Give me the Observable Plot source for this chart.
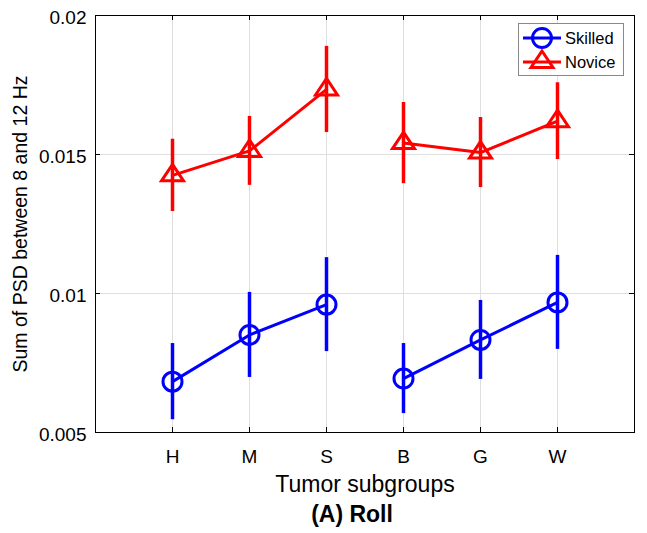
<!DOCTYPE html>
<html>
<head>
<meta charset="utf-8">
<script src="https://cdn.jsdelivr.net/npm/d3@7"></script>
<script src="https://cdn.jsdelivr.net/npm/@observablehq/plot@0.6"></script>
<style>
  body { margin: 0; background: white; }
  #wrap { position: relative; width: 647px; height: 533px; font-family: "Liberation Sans", Arial, sans-serif; }
  #legend { position: absolute; left: 0; top: 0; }
</style>
</head>
<body>
<div id="wrap"></div>
<script>
// ---- data ----
const categories = ["H", "M", "S", "B", "G", "W"];
const groups = [1, 1, 1, 2, 2, 2];
const skilledMean = [0.00683, 0.00851, 0.00960, 0.00694, 0.00833, 0.00968];
const skilledErr  = [0.00137, 0.00153, 0.00169, 0.00126, 0.00142, 0.00169];
const noviceMean  = [0.01425, 0.01513, 0.01734, 0.01541, 0.01507, 0.01620];
const noviceErr   = [0.00130, 0.00124, 0.00155, 0.00146, 0.00126, 0.00138];
const seriesNames = ["Skilled", "Novice"];
const seriesColors = ["#0000ff", "#ff0000"];
const yTicks = [0.005, 0.01, 0.015, 0.02];
const xLabel = "Tumor subgroups";
const yLabel = "Sum of PSD between 8 and 12 Hz";
const title = "(A) Roll";

// ---- build rows ----
const skilled = categories.map((c, i) => ({cat: c, grp: groups[i], mean: skilledMean[i], err: skilledErr[i]}));
const novice  = categories.map((c, i) => ({cat: c, grp: groups[i], mean: noviceMean[i], err: noviceErr[i]}));

const wideTriangle = {
  draw(ctx) {
    const h = 16.5, w = 22;
    ctx.moveTo(0, -2 * h / 3);
    ctx.lineTo(w / 2, h / 3);
    ctx.lineTo(-w / 2, h / 3);
    ctx.closePath();
  }
};

const W = 647, H = 533;
const mT = 15, mB = 101, mL = 95, mR = 13;
const fw = W - mL - mR, fh = H - mT - mB;
const tickLen = 5;
const grid = "#dfdfdf";

function seriesMarks(rows, color, symbol, r) {
  return [
    Plot.line(rows, {x: "cat", y: "mean", z: "grp", stroke: color, strokeWidth: 3}),
    Plot.ruleX(rows, {x: "cat", y1: d => d.mean - d.err, y2: d => d.mean + d.err, stroke: color, strokeWidth: 3.5}),
    Plot.dot(rows, {x: "cat", y: "mean", r, symbol, stroke: color, strokeWidth: 3, fill: "none"})
  ];
}

const chart = Plot.plot({
  width: W, height: H,
  marginTop: mT, marginBottom: mB, marginLeft: mL, marginRight: mR,
  style: {fontFamily: "Liberation Sans, Arial, sans-serif", fontSize: "19px", background: "white", color: "black"},
  x: {type: "point", domain: categories, padding: 1},
  y: {domain: [0.005, 0.02]},
  marks: [
    Plot.gridX(categories, {stroke: grid, strokeOpacity: 1}),
    Plot.gridY(yTicks, {stroke: grid, strokeOpacity: 1}),
    Plot.tickX(categories, {x: d => d, stroke: "black", insetTop: fh - tickLen}),
    Plot.tickX(categories, {x: d => d, stroke: "black", insetBottom: fh - tickLen}),
    Plot.tickY(yTicks, {y: d => d, stroke: "black", insetRight: fw - tickLen}),
    Plot.tickY(yTicks, {y: d => d, stroke: "black", insetLeft: fw - tickLen}),
    Plot.frame({stroke: "black"}),
    Plot.axisX({tickSize: 0, tickPadding: 17, fontSize: 19, label: null}),
    Plot.axisY(yTicks, {tickSize: 0, tickPadding: 9, dy: 2, fontSize: 19, label: null,
      tickFormat: d => String(+d.toFixed(3))}),
    ...seriesMarks(skilled, seriesColors[0], "circle", 9.5),
    ...seriesMarks(novice, seriesColors[1], wideTriangle, 9),
    Plot.text([xLabel], {frameAnchor: "bottom", lineAnchor: "middle", dy: 52, fontSize: 23, fill: "black"}),
    Plot.text([title], {frameAnchor: "bottom", lineAnchor: "middle", dy: 82, dx: -13, fontSize: 23, fontWeight: "bold", fill: "black"}),
    Plot.text([yLabel], {frameAnchor: "left", textAnchor: "middle", lineAnchor: "middle", rotate: -90, dx: -75, fontSize: 19.5, fill: "black"})
  ]
});

const wrap = document.getElementById("wrap");
wrap.appendChild(chart);

// ---- legend (inside plot, top-right) ----
const leg = d3.create("svg").attr("id", "legend").attr("width", W).attr("height", H)
  .style("pointer-events", "none");
leg.append("rect").attr("x", 518.5).attr("y", 23.5).attr("width", 105).attr("height", 52)
  .attr("fill", "white").attr("stroke", "#888").attr("stroke-width", 1);
seriesNames.forEach((name, i) => {
  const cy = 38 + i * 24;
  const g = leg.append("g");
  g.append("line").attr("x1", 523).attr("x2", 561).attr("y1", cy).attr("y2", cy)
    .attr("stroke", seriesColors[i]).attr("stroke-width", 3);
  if (i === 0) {
    g.append("circle").attr("cx", 542).attr("cy", cy).attr("r", 9.5)
      .attr("fill", "none").attr("stroke", seriesColors[i]).attr("stroke-width", 3);
  } else {
    const p = d3.path();
    wideTriangle.draw(p);
    g.append("path").attr("d", p.toString()).attr("transform", `translate(542,${cy})`)
      .attr("fill", "none").attr("stroke", seriesColors[i]).attr("stroke-width", 3);
  }
  g.append("text").attr("x", 565).attr("y", cy).attr("dy", "0.35em")
    .attr("font-size", 16.5).attr("font-family", "Liberation Sans, Arial, sans-serif")
    .attr("fill", "black").text(name);
});
wrap.appendChild(leg.node());
</script>
</body>
</html>
